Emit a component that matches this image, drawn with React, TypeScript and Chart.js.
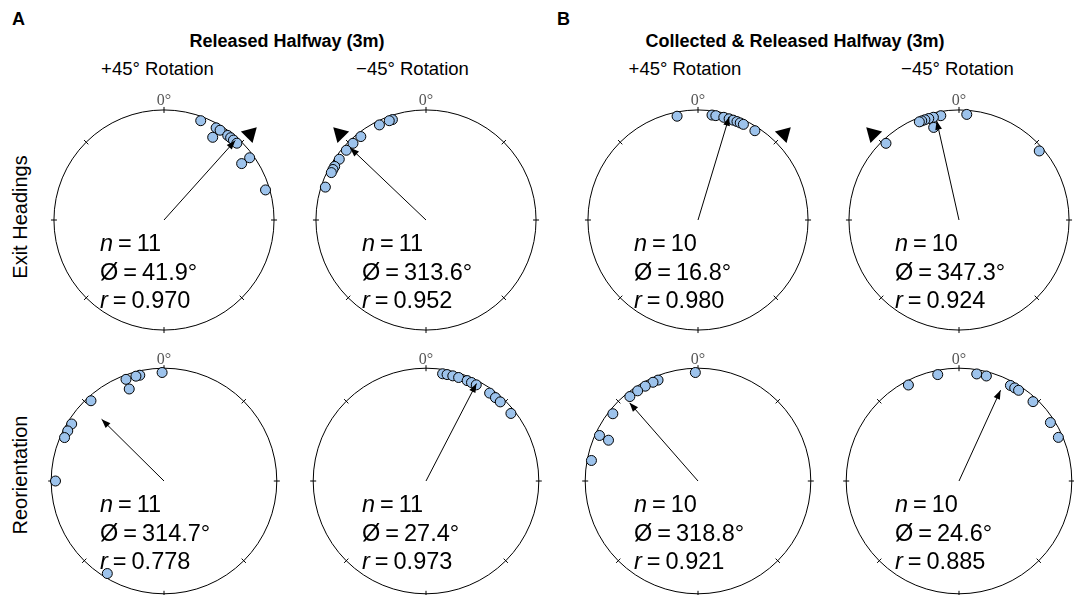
import React, { useEffect, useRef } from "react";
import { Chart, registerables } from "chart.js";

Chart.register(...registerables);

// ---------- DATA (headings in degrees, clockwise from 0°) ----------
const GROUP_TITLES = ["Released Halfway (3m)", "Collected & Released Halfway (3m)"];
const GROUP_LETTERS = ["A", "B"];
const COLUMN_LABELS = ["+45° Rotation", "\u221245° Rotation", "+45° Rotation", "\u221245° Rotation"];
const ROW_LABELS = ["Exit Headings", "Reorientation"];

// stack level: 1 = outer ring, 2 = next ring inward
const A_EXIT_POS = [20.3, 29.5, 32, 37, 39, 41, 43.5, 54, 73.5, 30.5, 54];
const A_EXIT_POS_STACK = [1, 1, 1, 1, 1, 1, 1, 1, 1, 2, 2];
const A_EXIT_NEG = [341.5, 339.7, 333.9, 322, 316.4, 311.2, 305, 300.4, 298.5, 296.6, 288.1];
const A_EXIT_NEG_STACK = [1, 1, 1, 1, 1, 1, 1, 1, 1, 1, 1];
const B_EXIT_POS = [348.6, 7.6, 9.7, 14.1, 17.1, 19.4, 21.6, 23.5, 25.4, 32.5];
const B_EXIT_POS_STACK = [1, 1, 1, 1, 1, 1, 1, 1, 1, 1];
const B_EXIT_NEG = [4.2, 350.1, 346, 343.4, 341.2, 339.4, 338, 316.4, 49.3, 344.7];
const B_EXIT_NEG_STACK = [1, 1, 1, 1, 1, 1, 1, 1, 1, 2];
const A_REOR_POS = [359, 347.1, 345, 339.5, 317.7, 301.7, 297.5, 293.6, 270, 211.5, 339.3];
const A_REOR_POS_STACK = [1, 1, 1, 1, 1, 1, 1, 1, 1, 1, 2];
const A_REOR_NEG = [8.8, 11.2, 14.3, 17.5, 22.3, 24.8, 27.6, 35.9, 39.8, 43.2, 51.5];
const A_REOR_NEG_STACK = [1, 1, 1, 1, 1, 1, 1, 1, 1, 1, 1];
const B_REOR_POS = [358.6, 338.4, 335.5, 330.9, 326.2, 321.1, 308.3, 294.8, 280.9, 294.5];
const B_REOR_POS_STACK = [1, 1, 1, 1, 1, 1, 1, 1, 1, 2];
const B_REOR_NEG = [332.2, 348.7, 9.4, 14.6, 28.3, 30.9, 33.3, 43, 57.4, 66.3];
const B_REOR_NEG_STACK = [1, 1, 1, 1, 1, 1, 1, 1, 1, 1];

const N_VALUES = [11, 11, 10, 10, 11, 11, 10, 10];
const MEAN_DIRS = [41.9, 313.6, 16.8, 347.3, 314.7, 27.4, 318.8, 24.6];
const R_VALUES = [0.97, 0.952, 0.98, 0.924, 0.778, 0.973, 0.921, 0.885];
const EXPECTED_DIRS: (number | null)[] = [45, 315, 45, 315, null, null, null, null];
const TICK_DIRS = [0, 45, 90, 135, 180, 225, 270, 315];

const PANEL_ANGLES = [A_EXIT_POS, A_EXIT_NEG, B_EXIT_POS, B_EXIT_NEG, A_REOR_POS, A_REOR_NEG, B_REOR_POS, B_REOR_NEG];
const PANEL_STACKS = [
  A_EXIT_POS_STACK, A_EXIT_NEG_STACK, B_EXIT_POS_STACK, B_EXIT_NEG_STACK,
  A_REOR_POS_STACK, A_REOR_NEG_STACK, B_REOR_POS_STACK, B_REOR_NEG_STACK,
];

// ---------- LAYOUT ----------
const COL_CX = [164, 426, 697.5, 958.5];
const ROW_CY = [219.5, 481];
const RADIUS_PX = 117.5;
const HALF = 150;
const LIM = HALF / RADIUS_PX;
const EDGE_RHO = 0.962;
const STACK_STEP = 0.09;
const MARKER_RHO = 1.106;
const SANS = '"Liberation Sans", Arial, Helvetica, sans-serif';
const SERIF = '"Liberation Serif", "Times New Roman", serif';
const POINT_FILL = "#9dc3ec";

const polar = (deg: number, rho: number) => {
  const a = (deg * Math.PI) / 180;
  return { x: rho * Math.sin(a), y: rho * Math.cos(a) };
};

const framePlugin = {
  id: "circFrame",
  beforeDatasetsDraw(chart: any, _args: any, opts: any) {
    const { ctx } = chart;
    const xs = chart.scales.x, ys = chart.scales.y;
    const cx = xs.getPixelForValue(0), cy = ys.getPixelForValue(0);
    const R = xs.getPixelForValue(1) - cx;
    const idx = opts.idx;
    ctx.save();
    ctx.strokeStyle = "#000";
    ctx.lineWidth = 1;
    ctx.beginPath();
    ctx.arc(cx, cy, R, 0, Math.PI * 2);
    ctx.stroke();
    ctx.beginPath();
    for (const t of TICK_DIRS) {
      const a = (t * Math.PI) / 180;
      const s = Math.sin(a), c = Math.cos(a);
      ctx.moveTo(cx + s * (R - 3), cy - c * (R - 3));
      ctx.lineTo(cx + s * (R + 3), cy - c * (R + 3));
    }
    ctx.stroke();
    ctx.fillStyle = "#555";
    ctx.font = `16px ${SERIF}`;
    ctx.textAlign = "center";
    ctx.textBaseline = "alphabetic";
    ctx.fillText("0°", cx, cy - R - 4.5);

    // statistics
    ctx.fillStyle = "#000";
    ctx.textAlign = "left";
    const size = 23.5;
    const lines: [string, boolean][][] = [
      [["n", true], ["=", false], [String(N_VALUES[idx]), false]],
      [["Ø", false], ["=", false], [MEAN_DIRS[idx].toFixed(1) + "°", false]],
      [["r", true], ["=", false], [R_VALUES[idx].toFixed(3), false]],
    ];
    const baselines = [31, 59.5, 88];
    lines.forEach((segs, li) => {
      let x = cx - 64;
      const yb = cy + baselines[li];
      segs.forEach(([t, it]) => {
        ctx.font = `${it ? "italic " : ""}${size}px ${SANS}`;
        ctx.fillText(t, x, yb);
        x += ctx.measureText(t).width + 5;
      });
    });
    ctx.restore();
  },
  afterDatasetsDraw(chart: any, _args: any, opts: any) {
    const { ctx } = chart;
    const xs = chart.scales.x, ys = chart.scales.y;
    const idx = opts.idx;
    const tip = polar(MEAN_DIRS[idx], R_VALUES[idx]);
    const tx = xs.getPixelForValue(tip.x), ty = ys.getPixelForValue(tip.y);
    const a = (MEAN_DIRS[idx] * Math.PI) / 180;
    const ux = Math.sin(a), uy = -Math.cos(a);
    const px = -uy, py = ux;
    const L = 9, W = 3.4;
    ctx.save();
    ctx.fillStyle = "#000";
    ctx.beginPath();
    ctx.moveTo(tx, ty);
    ctx.lineTo(tx - L * ux + W * px, ty - L * uy + W * py);
    ctx.lineTo(tx - L * ux - W * px, ty - L * uy - W * py);
    ctx.closePath();
    ctx.fill();
    ctx.restore();
  },
};

function CircularPanel({ idx, cx, cy }: { idx: number; cx: number; cy: number }) {
  const ref = useRef<HTMLCanvasElement>(null);
  useEffect(() => {
    if (!ref.current) return;
    const angles = PANEL_ANGLES[idx];
    const stacks = PANEL_STACKS[idx];
    const pts = angles.map((a, i) => polar(a, EDGE_RHO - (stacks[i] - 1) * STACK_STEP));
    const datasets: any[] = [
      {
        data: [{ x: 0, y: 0 }, polar(MEAN_DIRS[idx], R_VALUES[idx])],
        showLine: true,
        borderColor: "#000",
        borderWidth: 1,
        pointRadius: 0,
        clip: false,
        order: 0,
      },
      {
        data: pts,
        pointRadius: 5,
        pointBorderWidth: 1,
        pointBackgroundColor: POINT_FILL,
        pointBorderColor: "#000",
        clip: false,
        order: 1,
      },
    ];
    const exp = EXPECTED_DIRS[idx];
    if (exp !== null) {
      datasets.push({
        data: [polar(exp, MARKER_RHO)],
        pointStyle: "triangle",
        pointRotation: exp,
        pointRadius: 9.5,
        pointBorderWidth: 0,
        pointBackgroundColor: "#000",
        pointBorderColor: "#000",
        clip: false,
        order: 2,
      });
    }
    const chart = new Chart(ref.current, {
      type: "scatter",
      data: { datasets },
      options: {
        responsive: false,
        maintainAspectRatio: false,
        animation: false,
        events: [],
        layout: { padding: 0 },
        scales: {
          x: { type: "linear", min: -LIM, max: LIM, display: false },
          y: { type: "linear", min: -LIM, max: LIM, display: false },
        },
        plugins: {
          legend: { display: false },
          tooltip: { enabled: false },
          circFrame: { idx },
        } as any,
      },
      plugins: [framePlugin as any],
    });
    return () => chart.destroy();
  }, [idx]);
  return (
    <canvas
      ref={ref}
      width={HALF * 2}
      height={HALF * 2}
      style={{ position: "absolute", left: cx - HALF, top: cy - HALF, width: HALF * 2, height: HALF * 2 }}
    />
  );
}

function Text({ text, cx, left, baseline, size, bold }: { text: string; cx?: number; left?: number; baseline: number; size: number; bold?: boolean }) {
  const top = baseline - 0.8465 * size;
  const style: React.CSSProperties = {
    position: "absolute",
    top,
    fontSize: size,
    lineHeight: `${size}px`,
    fontWeight: bold ? "bold" : "normal",
    whiteSpace: "nowrap",
    color: "#000",
  };
  if (cx !== undefined) {
    style.left = cx - 300;
    style.width = 600;
    style.textAlign = "center";
  } else {
    style.left = left;
  }
  return <div style={style}>{text}</div>;
}

function RotatedText({ text, cx, cy, size }: { text: string; cx: number; cy: number; size: number }) {
  return (
    <div
      style={{
        position: "absolute",
        left: cx - 150,
        top: cy - size / 2,
        width: 300,
        height: size,
        lineHeight: `${size}px`,
        fontSize: size,
        textAlign: "center",
        whiteSpace: "nowrap",
        transform: "rotate(-90deg)",
        transformOrigin: "50% 50%",
      }}
    >
      {text}
    </div>
  );
}

const TITLE_CX = [287, 795];
const LETTER_LEFT = [12, 557];
const COL_LABEL_CX = [157.5, 412.5, 685, 957.5];
const ROW_LABEL_CY = [216.7, 475];

export default function App() {
  return (
    <div
      style={{
        position: "absolute",
        left: 0,
        top: 0,
        width: 1074,
        height: 595,
        overflow: "hidden",
        background: "#fff",
        fontFamily: SANS,
      }}
    >
      {GROUP_LETTERS.map((l, i) => (
        <Text key={"l" + i} text={l} left={LETTER_LEFT[i]} baseline={25} size={18} bold />
      ))}
      {GROUP_TITLES.map((t, i) => (
        <Text key={"t" + i} text={t} cx={TITLE_CX[i]} baseline={47} size={18} bold />
      ))}
      {COLUMN_LABELS.map((t, i) => (
        <Text key={"c" + i} text={t} cx={COL_LABEL_CX[i]} baseline={76} size={18.5} />
      ))}
      {ROW_LABELS.map((t, i) => (
        <RotatedText key={"r" + i} text={t} cx={19.5} cy={ROW_LABEL_CY[i]} size={20} />
      ))}
      {ROW_CY.map((cy, r) =>
        COL_CX.map((cx, c) => <CircularPanel key={r * 4 + c} idx={r * 4 + c} cx={cx} cy={cy} />)
      )}
    </div>
  );
}
